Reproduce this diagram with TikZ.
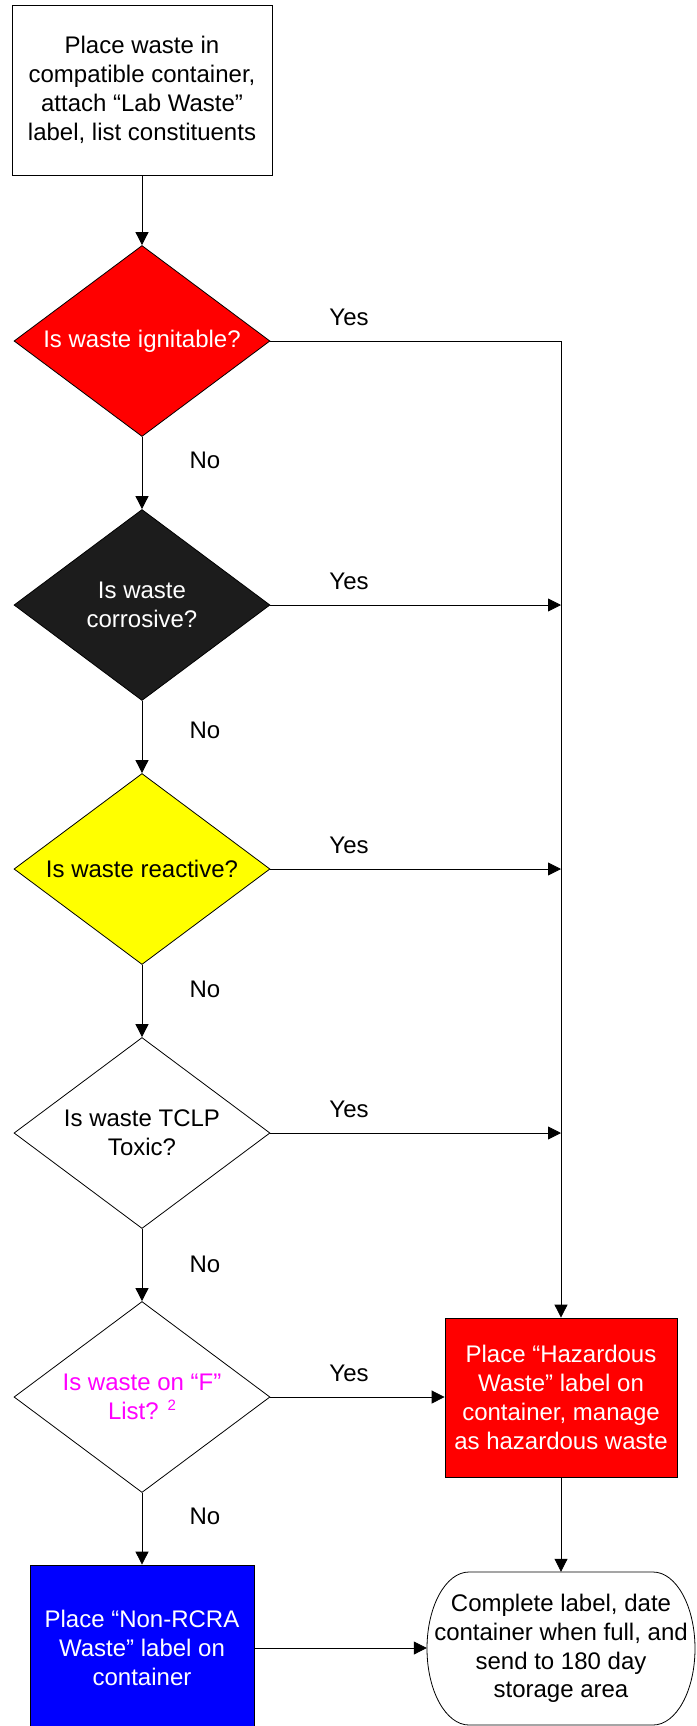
\documentclass[tikz,border=0pt]{standalone}
\usepackage{fontspec}
\setmainfont{Liberation Sans}
\usetikzlibrary{shapes.geometric,arrows.meta}
\definecolor{hzred}{RGB}{255,0,0}
\definecolor{hzblack}{RGB}{28,28,28}
\definecolor{hzyellow}{RGB}{255,255,0}
\definecolor{hzblue}{RGB}{0,0,255}
\definecolor{hzmagenta}{RGB}{255,0,255}
\begin{document}
\begin{tikzpicture}[x=1pt,y=-1pt,
  txt/.style={font=\fontsize{24}{28.8}\selectfont, align=center, inner sep=0pt},
  dia/.style={shape=diamond, draw=black, line width=0.8pt, minimum width=256pt, minimum height=191pt, inner sep=0pt},
  boxnode/.style={draw=black, line width=0.8pt, inner sep=0pt, font=\fontsize{24}{28.8}\selectfont, align=center},
  conn/.style={draw=black, line width=0.8pt, -{Triangle[length=13pt,width=13pt]}},
  lbl/.style={font=\fontsize{24}{28.8}\selectfont, inner sep=0pt}]
\useasboundingbox (0,0) rectangle (696,1726);

% start box
\node[boxnode, fill=white, minimum width=260pt, minimum height=170pt] (start) at (142,90)
  {Place waste in\\compatible container,\\attach “Lab Waste”\\label, list constituents};

% diamonds
\node[dia, fill=hzred] (d1) at (142,341) {};
\node[txt, text=white] (d1t) at (d1.center) {Is waste ignitable?};
\node[dia, fill=hzblack] (d2) at (142,605) {};
\node[txt, text=white] (d2t) at (d2.center) {Is waste\\corrosive?};
\node[dia, fill=hzyellow] (d3) at (142,869) {};
\node[txt, text=black] (d3t) at (d3.center) {Is waste reactive?};
\node[dia, fill=white] (d4) at (142,1133) {};
\node[txt, text=black] (d4t) at (d4.center) {Is waste TCLP\\Toxic?};
\node[dia, fill=white] (d5) at (142,1397) {};
\node[txt, text=hzmagenta] (d5t) at (d5.center) {Is waste on “F”\\List? {\fontsize{15}{15}\selectfont\raisebox{9pt}{2}}};

% hazardous box
\node[boxnode, fill=hzred, text=white, minimum width=232pt, minimum height=159pt] (haz) at (561,1397.5)
  {Place “Hazardous\\Waste” label on\\container, manage\\as hazardous waste};

% non-RCRA box
\node[boxnode, fill=hzblue, text=white, minimum width=224pt, minimum height=166pt] (nonrcra) at (142,1648)
  {Place “Non-RCRA\\Waste” label on\\container};

% terminal
\draw[line width=0.8pt, fill=white] (469,1572) -- (653,1572)
  arc[start angle=90, end angle=-90, x radius=42pt, y radius=76.5pt] -- (469,1725)
  arc[start angle=270, end angle=90, x radius=42pt, y radius=76.5pt] -- cycle;
\node[txt, minimum width=268pt, minimum height=153pt] (term) at (561,1648.5)
  {Complete label, date\\container when full, and\\send to 180 day\\storage area};

% labels
\node[lbl] (y1) at (349,317) {Yes};
\node[lbl] (y2) at (349,581) {Yes};
\node[lbl] (y3) at (349,845) {Yes};
\node[lbl] (y4) at (349,1109) {Yes};
\node[lbl] (y5) at (349,1373) {Yes};
\node[lbl] (n1) at (205,460) {No};
\node[lbl] (n2) at (205,730) {No};
\node[lbl] (n3) at (205,989) {No};
\node[lbl] (n4) at (205,1264) {No};
\node[lbl] (n5) at (205,1516) {No};

% connectors
\draw[conn] (start.south) -- (d1.north);
\draw[conn] (d1.south) -- (d2.north);
\draw[conn] (d2.south) -- (d3.north);
\draw[conn] (d3.south) -- (d4.north);
\draw[conn] (d4.south) -- (d5.north);
\draw[conn] (d5.south) -- (nonrcra.north);
\draw[conn] (d1.east) -| (haz.north);
\draw[conn] (d2.east) -- (d2.east -| haz.north);
\draw[conn] (d3.east) -- (d3.east -| haz.north);
\draw[conn] (d4.east) -- (d4.east -| haz.north);
\draw[conn] (d5.east) -- (d5.east -| haz.west);
\draw[conn] (haz.south) -- (term.north);
\draw[conn] (nonrcra.east) -- (nonrcra.east -| term.west);
\end{tikzpicture}
\end{document}
